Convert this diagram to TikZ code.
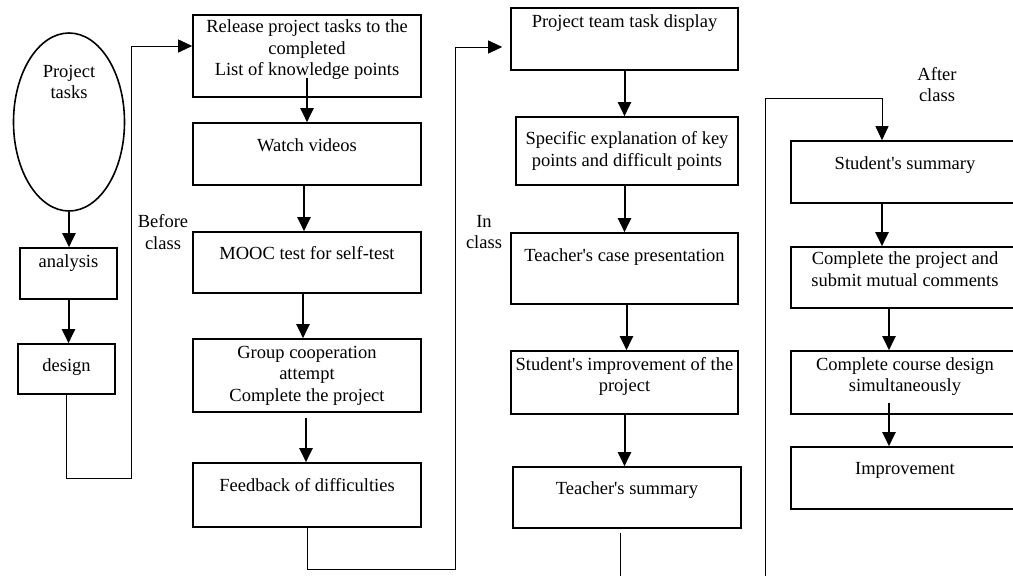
\documentclass[tikz,border=0pt]{standalone}
\usepackage{fontspec}
\setmainfont{Liberation Serif}
\usetikzlibrary{arrows.meta, shapes.geometric}
\newcommand{\apos}{\textquotesingle}
\tikzset{
  flowbox/.style={rectangle, draw, line width=1.6pt, inner sep=3pt, align=center,
    minimum width=228pt, font=\fontsize{18.5}{21.5}\selectfont},
  lift/.style={text depth=#1},
  flowarrow/.style={line width=2pt, -{Triangle[length=14pt,width=13pt]}},
  backlink/.style={line width=0.9pt, -{Triangle[length=14pt,width=13pt]}},
  phase/.style={align=center, inner sep=0pt, font=\fontsize{18.5}{21.5}\selectfont}
}
\begin{document}
\begin{tikzpicture}[x=1pt,y=-1pt]
  \useasboundingbox (0,0) rectangle (1013,576);
  \clip (0,0) rectangle (1013,576);

  % Left column
  \node[ellipse, draw, line width=1.6pt, minimum width=111pt, minimum height=178pt,
    align=center, text depth=80pt, font=\fontsize{18.5}{21.5}\selectfont]
    (tasks) at (69,122) {Project\\tasks};
  \node[flowbox, minimum width=97pt, minimum height=51pt, lift=24pt] (ana) at (68.5,273.5) {analysis};
  \node[flowbox, minimum width=97pt, minimum height=50pt, lift=8pt] (des) at (66.5,369) {design};

  % Before class
  \node[flowbox, minimum height=82pt, lift=16pt] (rel) at (307,56)
    {Release project tasks to the\\completed\\List of knowledge points};
  \node[flowbox, minimum height=62pt, lift=18pt] (vid) at (307,154) {Watch videos};
  \node[flowbox, minimum height=61pt, lift=19pt] (mooc) at (307,262.5) {MOOC test for self-test};
  \node[flowbox, minimum height=73pt] (grp) at (307,375.5)
    {Group cooperation\\attempt\\Complete the project};
  \node[flowbox, minimum height=64pt, lift=20pt] (fb) at (307,495) {Feedback of difficulties};

  % In class
  \node[flowbox, minimum width=227pt, minimum height=62pt, lift=36pt] (disp) at (624.5,39) {Project team task display};
  \node[flowbox, minimum width=222pt, minimum height=68pt] (spec) at (627,151)
    {Specific explanation of key\\points and difficult points};
  \node[flowbox, minimum width=227pt, minimum height=71pt, lift=27pt] (case) at (624.5,268.5) {Teacher\apos s case presentation};
  \node[flowbox, minimum width=227pt, minimum height=63pt, lift=16pt] (imp) at (624.5,382.5)
    {Student\apos s improvement of the\\project};
  \node[flowbox, minimum height=61pt, lift=19pt] (tsum) at (627,497.5) {Teacher\apos s summary};

  % After class
  \node[flowbox, minimum height=62pt, lift=18pt] (ssum) at (905,172) {Student\apos s summary};
  \node[flowbox, minimum height=61pt, lift=17pt] (subm) at (905,277.5)
    {Complete the project and\\submit mutual comments};
  \node[flowbox, minimum height=63pt, lift=16pt] (cdes) at (905,382.5)
    {Complete course design\\simultaneously};
  \node[flowbox, minimum height=62pt, lift=20pt] (impv) at (905,478) {Improvement};

  % Phase labels
  \node[phase] (before) at (163,232) {Before\\class};
  \node[phase] (inclass) at (484,232) {In\\class};
  \node[phase] (after) at (937,84.5) {After\\class};

  % Arrows inside the columns
  \draw[flowarrow] (tasks.south) -- (tasks.south |- ana.north);
  \draw[flowarrow] (ana.south) -- (ana.south |- des.north);
  \draw[flowarrow] ([yshift=20pt]rel.south) -- (vid.north);
  \draw[flowarrow] ([xshift=-3pt]vid.south) -- ([xshift=-3pt]mooc.north);
  \draw[flowarrow] ([xshift=-4pt]mooc.south) -- ([xshift=-4pt]grp.north);
  \draw[flowarrow] ([xshift=-1pt,yshift=-5pt]grp.south) -- ([xshift=-1pt]fb.north);
  \draw[flowarrow] (disp.south) -- (disp.south |- spec.north);
  \draw[flowarrow] (disp.south |- spec.south) -- (disp.south |- case.north);
  \draw[flowarrow] ([xshift=2pt]case.south) -- ([xshift=2pt]imp.north);
  \draw[flowarrow] (imp.south) -- (imp.south |- tsum.north);
  \draw[flowarrow] ([xshift=-23pt]ssum.south) -- ([xshift=-23pt]subm.north);
  \draw[flowarrow] ([xshift=-16pt]subm.south) -- ([xshift=-16pt]cdes.north);
  \draw[flowarrow] ([xshift=-16pt,yshift=12pt]cdes.south) -- ([xshift=-16pt]impv.north);

  % Links between the phases
  \draw[backlink] (des.south) |- (131,478) |- ([yshift=10pt]rel.west);
  \draw[backlink, shorten >=8pt] (fb.south) |- (455,569) |- ([yshift=-8pt]disp.west);
  \coordinate (turn) at (765,98);
  \draw[backlink] ([xshift=-7pt,yshift=-4pt]tsum.south) -- ++(0,70) -| (turn) -| ([xshift=-23pt]ssum.north);
\end{tikzpicture}
\end{document}
